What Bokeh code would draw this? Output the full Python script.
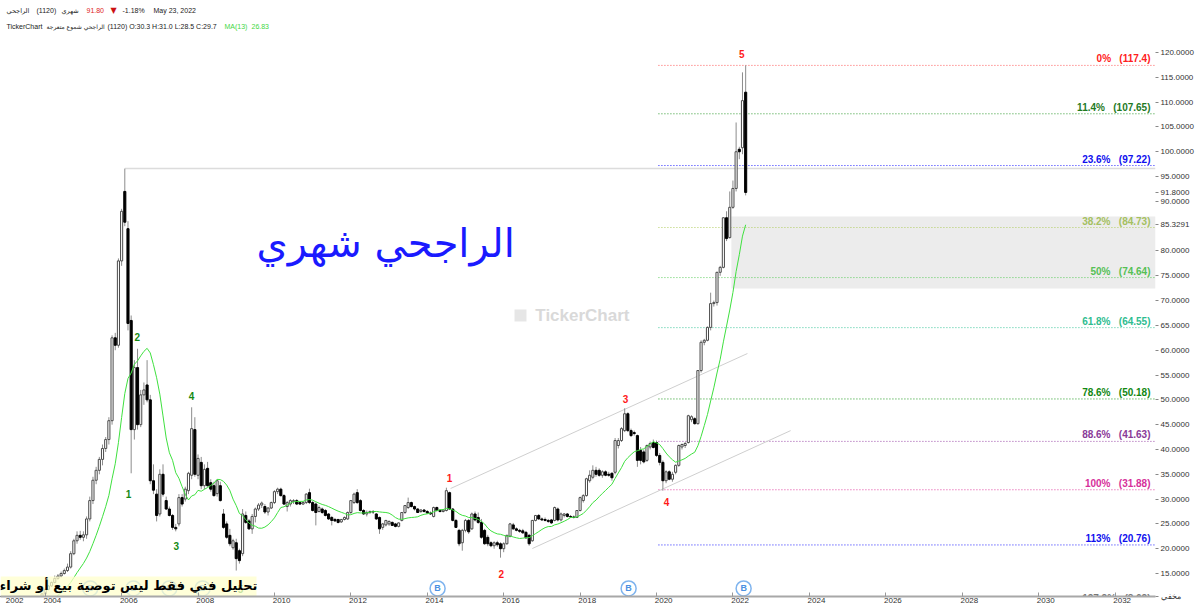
import pandas as pd
from bokeh.plotting import figure
from bokeh.models import (ColumnDataSource, Range1d, FixedTicker, CustomJSTickFormatter)
from bokeh.core.properties import value
from bokeh.embed import file_html
from bokeh.resources import INLINE

# ---------------- data (monthly candles, Al Rajhi 1120) ----------------
first_month = "2002-05-01"
opens = [
    5.4, 5.5, 5.6, 5.8, 5.9, 6.0, 6.2, 6.3,
    6.5, 6.6, 6.8, 7.0, 7.2, 7.4, 7.8, 8.2, 8.6, 9.0, 9.6, 10.2,
    10.9, 11.8, 12.5, 13.2, 14.0, 14.5, 15.0, 15.6, 16.3, 19.0, 21.6, 22.7,
    22.3, 22.8, 26.0, 29.7, 33.8, 35.8, 38.0, 40.2, 42.0, 45.8, 62.5, 61.0,
    78.0, 92.0, 84.5, 66.0, 44.0, 56.5, 45.0, 51.0, 53.0, 50.0, 33.7, 31.0,
    27.0, 35.0, 29.7, 28.0, 26.7, 24.3, 25.0, 30.3, 30.0, 31.7, 34.8, 44.0,
    34.8, 37.4, 32.7, 36.2, 33.3, 32.7, 31.1, 32.7, 27.0, 25.0, 22.7, 20.2,
    21.2, 19.6, 19.0, 26.7, 25.6, 24.0, 26.5, 28.0, 28.8, 28.5, 27.4, 28.2,
    29.3, 31.5, 32.0, 30.7, 28.5, 29.0, 29.5, 29.7, 29.3, 29.0, 29.3, 31.3,
    29.3, 29.0, 27.5, 28.0, 27.7, 27.0, 26.3, 25.9, 25.9, 25.4, 25.9, 26.0,
    27.3, 29.3, 31.3, 29.7, 27.7, 27.0, 27.3, 27.5, 27.0, 26.3, 24.3, 24.8,
    25.0, 25.3, 25.0, 24.5, 25.7, 27.3, 28.3, 29.3, 28.5, 28.0, 27.5, 27.8,
    27.5, 27.2, 26.5, 28.3, 27.7, 27.5, 27.7, 31.3, 28.0, 25.7, 23.7, 21.2,
    23.7, 25.7, 24.0, 27.0, 26.3, 25.3, 23.7, 22.3, 21.2, 20.6, 21.2, 21.0,
    20.0, 21.0, 22.5, 24.8, 24.0, 23.7, 23.6, 23.3, 22.7, 21.6, 25.7, 26.7,
    26.0, 25.9, 25.7, 25.8, 25.7, 28.0, 25.8, 26.7, 27.0, 26.5, 26.4, 26.3,
    27.7, 29.7, 30.7, 33.7, 34.4, 35.8, 35.8, 34.8, 35.5, 35.0, 35.2, 35.4,
    40.8, 41.8, 43.8, 47.2, 43.8, 43.4, 42.8, 39.8, 39.5, 37.8, 40.5, 41.4,
    41.4, 38.8, 37.4, 33.7, 35.5, 34.0, 35.4, 36.8, 40.5, 40.8, 41.4, 46.0,
    46.2, 45.2, 55.9, 61.6, 62.0, 64.6, 69.4, 69.6, 75.7, 76.7, 86.7, 82.7,
    88.8, 92.6, 100.5, 100.8, 112.0,
]
highs = [
    5.6, 5.7, 5.9, 6.0, 6.1, 6.3, 6.4, 6.6,
    6.7, 6.9, 7.1, 7.3, 7.5, 7.9, 8.3, 8.7, 9.1, 9.8, 10.4, 11.1,
    12.0, 12.7, 13.4, 14.6, 14.9, 15.4, 16.0, 17.0, 19.5, 22.0, 23.5, 23.6,
    23.5, 26.5, 30.5, 34.5, 36.5, 38.5, 41.0, 42.5, 46.5, 63.0, 63.5, 78.5,
    88.5, 96.6, 86.0, 67.0, 58.0, 60.3, 52.0, 53.5, 58.0, 51.0, 37.0, 32.0,
    36.0, 37.0, 30.5, 28.5, 27.0, 25.0, 31.0, 31.0, 32.5, 35.5, 48.5, 46.5,
    39.0, 38.5, 37.0, 37.5, 34.0, 33.5, 34.0, 33.5, 28.0, 25.5, 24.0, 22.0,
    22.0, 20.0, 28.0, 27.5, 26.0, 27.0, 28.3, 29.2, 29.5, 29.0, 28.4, 29.5,
    31.8, 32.3, 32.3, 31.0, 29.6, 30.0, 30.0, 30.0, 29.5, 29.6, 31.2, 32.1,
    29.6, 29.3, 28.7, 28.3, 28.0, 27.2, 26.6, 26.2, 26.0, 26.0, 26.5, 27.5,
    29.8, 31.3, 32.0, 30.0, 28.0, 27.7, 27.7, 27.8, 27.2, 26.5, 25.2, 25.8,
    25.7, 25.5, 25.2, 25.3, 27.3, 28.7, 30.3, 29.5, 28.7, 28.2, 28.0, 28.0,
    27.8, 27.5, 28.5, 28.5, 28.0, 28.0, 32.3, 31.5, 28.2, 26.0, 24.0, 24.0,
    26.0, 26.0, 27.3, 27.5, 27.3, 26.0, 24.0, 22.8, 21.5, 21.5, 21.6, 21.3,
    21.3, 22.8, 25.2, 25.2, 24.3, 24.0, 24.0, 23.6, 23.0, 25.8, 26.8, 27.0,
    26.3, 26.3, 26.0, 26.0, 28.5, 28.3, 27.3, 27.2, 27.2, 26.8, 26.7, 27.8,
    30.5, 31.0, 34.3, 35.8, 36.8, 36.5, 36.2, 35.8, 35.8, 35.5, 35.4, 42.3,
    42.3, 44.5, 48.3, 47.5, 44.2, 43.8, 43.0, 40.5, 40.0, 41.0, 41.6, 42.0,
    41.8, 39.3, 37.8, 35.8, 35.8, 35.5, 37.0, 41.0, 41.2, 41.5, 47.0, 46.9,
    46.5, 56.0, 62.0, 62.3, 64.8, 71.6, 70.0, 75.8, 77.0, 86.8, 88.0, 92.0,
    94.2, 105.9, 101.0, 116.0, 117.4,
]
lows = [
    5.3, 5.4, 5.5, 5.7, 5.8, 5.9, 6.1, 6.2,
    6.4, 6.5, 6.6, 6.9, 7.1, 7.3, 7.7, 8.1, 8.5, 8.9, 9.5, 10.0,
    10.8, 11.6, 12.3, 13.0, 13.7, 14.2, 14.8, 15.3, 16.0, 18.7, 21.0, 21.8,
    21.5, 22.0, 25.5, 29.0, 33.0, 35.0, 36.8, 39.5, 41.0, 45.0, 60.0, 60.5,
    77.0, 85.0, 64.0, 35.2, 42.0, 44.0, 44.5, 49.0, 49.5, 33.0, 31.0, 25.5,
    26.5, 30.5, 27.8, 26.5, 23.8, 23.5, 24.5, 28.5, 29.5, 31.0, 34.0, 34.5,
    34.0, 32.0, 32.0, 32.5, 31.5, 30.5, 30.5, 29.5, 24.0, 22.0, 20.5, 19.8,
    15.6, 17.0, 18.5, 25.0, 23.8, 23.0, 25.3, 27.6, 28.2, 27.0, 26.7, 28.0,
    29.0, 31.0, 30.5, 28.8, 27.5, 28.5, 29.0, 28.8, 28.8, 28.8, 29.0, 29.0,
    27.5, 24.7, 27.3, 27.0, 26.5, 25.8, 24.7, 25.4, 25.1, 25.2, 25.7, 25.8,
    27.0, 29.0, 29.0, 27.5, 26.8, 26.5, 27.0, 27.0, 25.8, 23.0, 23.8, 24.5,
    24.6, 24.6, 24.3, 24.3, 25.5, 27.0, 28.0, 28.3, 27.7, 27.2, 27.2, 27.3,
    27.0, 26.8, 26.3, 27.5, 27.3, 27.3, 27.5, 27.8, 25.5, 24.2, 20.5, 19.6,
    23.3, 23.0, 23.8, 25.5, 25.0, 22.0, 20.8, 20.5, 20.3, 20.0, 20.4, 18.2,
    19.3, 20.8, 22.3, 23.8, 23.5, 23.2, 23.0, 22.0, 20.6, 21.4, 25.5, 25.8,
    25.6, 25.5, 25.2, 25.0, 25.5, 25.5, 25.5, 26.3, 26.3, 26.2, 26.1, 26.2,
    27.5, 29.3, 30.5, 33.3, 34.0, 34.5, 34.5, 34.3, 34.6, 34.5, 33.7, 35.0,
    40.2, 41.5, 43.5, 43.5, 42.5, 42.8, 36.5, 37.0, 37.2, 37.5, 40.0, 40.2,
    38.5, 36.8, 31.7, 33.2, 33.8, 33.5, 35.0, 36.5, 40.0, 40.3, 41.2, 45.5,
    45.0, 45.0, 55.5, 61.0, 61.8, 64.0, 68.8, 69.0, 75.0, 76.5, 82.0, 82.5,
    88.5, 92.0, 98.5, 99.5, 91.2,
]
closes = [
    5.5, 5.6, 5.8, 5.9, 6.0, 6.2, 6.3, 6.5,
    6.6, 6.8, 7.0, 7.2, 7.4, 7.8, 8.2, 8.6, 9.0, 9.6, 10.2, 10.9,
    11.8, 12.5, 13.2, 14.0, 14.5, 15.0, 15.6, 16.3, 19.0, 21.6, 22.7, 22.3,
    22.8, 26.0, 29.7, 33.8, 35.8, 38.0, 40.2, 42.0, 45.8, 62.5, 61.0, 78.0,
    88.0, 85.8, 65.4, 44.0, 56.5, 45.0, 51.0, 52.0, 50.0, 33.7, 31.8, 26.7,
    35.0, 31.0, 28.0, 26.7, 24.3, 24.0, 30.3, 29.0, 32.0, 35.2, 44.2, 35.0,
    38.2, 32.7, 36.0, 32.7, 32.0, 30.7, 33.7, 29.7, 24.3, 22.3, 21.0, 21.6,
    18.0, 17.6, 27.0, 25.3, 24.0, 26.5, 28.0, 28.8, 29.2, 27.4, 28.2, 29.3,
    31.5, 32.0, 30.7, 29.0, 29.3, 29.7, 29.7, 29.0, 29.0, 29.3, 31.0, 29.3,
    27.7, 27.3, 28.3, 27.3, 26.7, 26.0, 25.7, 25.6, 25.3, 25.9, 26.3, 27.3,
    29.7, 31.0, 29.3, 27.7, 27.0, 27.3, 27.5, 27.4, 26.0, 24.0, 25.0, 25.7,
    25.5, 24.7, 24.5, 25.2, 27.3, 28.7, 29.3, 28.5, 28.0, 27.3, 27.8, 27.5,
    27.2, 27.0, 28.3, 27.7, 27.5, 27.8, 31.7, 28.0, 25.7, 24.3, 21.0, 23.7,
    25.7, 23.4, 27.0, 25.8, 25.3, 22.3, 21.0, 21.0, 20.6, 21.2, 20.8, 20.0,
    21.0, 22.7, 25.0, 24.0, 23.7, 23.5, 23.2, 22.2, 21.0, 25.7, 26.7, 26.0,
    25.8, 25.7, 25.5, 25.2, 28.3, 25.8, 27.0, 27.0, 26.5, 26.4, 26.3, 27.7,
    30.3, 30.7, 34.1, 34.8, 35.8, 35.0, 34.8, 35.5, 34.8, 34.8, 34.3, 41.8,
    41.8, 44.2, 47.2, 43.8, 42.8, 43.2, 37.8, 37.8, 37.5, 40.8, 41.2, 40.4,
    38.8, 37.4, 33.7, 35.5, 34.0, 35.0, 36.8, 40.8, 41.0, 41.2, 46.8, 46.6,
    45.2, 55.9, 61.6, 62.0, 64.6, 69.4, 69.6, 75.7, 76.7, 86.7, 82.5, 88.8,
    92.6, 100.0, 100.0, 110.3, 91.8,
]

# Fibonacci levels
fib_pcts = ["0%", "11.4%", "23.6%", "38.2%", "50%", "61.8%", "78.6%", "88.6%", "100%", "113%", "127.2%"]
fib_vals = [117.4, 107.65, 97.22, 84.73, 74.64, 64.55, 50.18, 41.63, 31.88, 20.76, 8.62]
fib_line_colors = ["#ff5a5a", "#2e9a2e", "#2020ff", "#b0cc60", "#5ccc5c", "#3cc49a",
                   "#1f9a1f", "#9a4aa8", "#e040a0", "#2020ff", "#777777"]
fib_text_colors = ["#ff2020", "#1f7a1f", "#1010ee", "#a4c060", "#55c055", "#2ebd90",
                   "#118811", "#8a3a98", "#d6309a", "#1010ee", "#777777"]
fib_start = 2020.05

# gray zone
zone_left, zone_bottom, zone_top = 2021.96, 72.44, 86.95

# channel lines (date, price)
chan_upper = [(2014.61, 32.13), (2022.38, 59.34)]
chan_lower = [(2016.75, 20.04), (2023.51, 43.80)]

# wave labels
green_waves = ["1", "2", "3", "4", "5"]
green_t = [2006.18, 2006.41, 2007.43, 2007.83, 2009.11]
green_p = [31.1, 62.6, 20.6, 50.7, 11.9]
red_waves = ["1", "2", "3", "4", "5"]
red_t = [2014.58, 2015.94, 2019.19, 2020.26, 2022.23]
red_p = [34.35, 15.0, 50.27, 29.5, 119.6]

# "B" markers
b_t = [2005.18, 2006.31, 2007.25, 2008.12, 2014.27, 2019.27, 2022.28]
b_price = 12.0

# right-axis price tags
last_close_tag = 91.8
ma_tag = 85.3291
price_ticks = [15, 20, 25, 30, 35, 40, 45, 50, 55, 60, 65, 70, 75, 80,
               ma_tag, 90, last_close_tag, 95, 100, 105, 110, 115, 120]
year_labels = list(range(2004, 2033, 2))

# disclaimer box extent (years / price)
disc_right, disc_top, disc_text_y = 2009.53, 14.4, 12.6

# ---------------- frame ----------------
X0, X1 = 2002.83, 2033.06
Y0, Y1 = 10.37, 130.48

months = pd.date_range(first_month, periods=len(closes), freq="MS")
t = months.year + (months.month - 1) / 12.0
df = pd.DataFrame({"t": t, "o": opens, "h": highs, "l": lows, "c": closes})
df["ma"] = df["c"].rolling(13).mean()
up = df[df.c >= df.o]
dn = df[df.c < df.o]

p = figure(width=1200, height=609, x_range=Range1d(X0, X1), y_range=Range1d(Y0, Y1),
           output_backend="svg", toolbar_location=None, y_axis_location="right",
           min_border_left=0, min_border_right=45, min_border_top=0, min_border_bottom=13,
           background_fill_color="white", border_fill_color="white", outline_line_color=None)
p.grid.visible = False

xa = p.xaxis[0]
xa.ticker = FixedTicker(ticks=[2003.2] + [y + 0.1875 for y in year_labels], minor_ticks=year_labels)
xa.formatter = CustomJSTickFormatter(code="return tick < 2004 ? '2002' : String(Math.floor(tick));")
xa.major_tick_line_color = None
xa.major_tick_out = 0
xa.major_tick_in = 0
xa.minor_tick_in = 4
xa.minor_tick_out = 0
xa.minor_tick_line_color = "#999999"
xa.axis_line_color = "#a8a8a8"
xa.axis_line_width = 2
xa.major_label_text_font_size = "8px"
xa.major_label_text_color = "#333333"
xa.major_label_text_font = "Liberation Sans"
xa.major_label_standoff = 1

ya = p.yaxis[0]
ya.ticker = FixedTicker(ticks=[Y0] + price_ticks)
ya.formatter = CustomJSTickFormatter(code="return tick < 12 ? 'مخفي' : tick.toFixed(4);")
ya.axis_line_color = None
ya.major_tick_out = 3
ya.major_tick_in = 0
ya.major_tick_line_color = "#888888"
ya.minor_tick_line_color = None
ya.major_label_text_font_size = "8px"
ya.major_label_text_color = "#333333"
ya.major_label_text_font = "Liberation Sans"
ya.major_label_standoff = 2

# gray zone
p.quad(left=zone_left, right=X1, bottom=zone_bottom, top=zone_top,
       fill_color="#ececec", line_color=None)

# horizontal line from the 2006 peak
peak_i = int(df["h"].iloc[:60].idxmax())
p.segment(x0=df["t"].iloc[peak_i], y0=df["h"].iloc[peak_i], x1=X1, y1=df["h"].iloc[peak_i],
          line_color="#dcdcdc", line_width=1.5)

# fib lines + labels
nb = "\u00a0\u00a0\u00a0"
fsrc = ColumnDataSource(dict(v=fib_vals, lc=fib_line_colors, tc=fib_text_colors,
                             txt=[f"{a}{nb}({b})" for a, b in zip(fib_pcts, fib_vals)]))
p.segment(x0=fib_start, y0="v", x1=X1, y1="v", line_color="lc", line_dash="1 2",
          line_width=1, source=fsrc)
p.text(x=X1, y="v", text="txt", text_color="tc", text_align="right", text_baseline="bottom",
       x_offset=-5, y_offset=-1, text_font=value("Liberation Sans"), text_font_style="bold",
       text_font_size="10px", source=fsrc)

# channel lines
p.segment(x0=[chan_upper[0][0], chan_lower[0][0]], y0=[chan_upper[0][1], chan_lower[0][1]],
          x1=[chan_upper[1][0], chan_lower[1][0]], y1=[chan_upper[1][1], chan_lower[1][1]],
          line_color="#cfcfcf", line_width=1)

# watermark
p.scatter(x=[2016.44], y=[67.0], marker="square", size=12, fill_color="#e6e6e6", line_color=None)
p.text(x=[2018.06], y=[67.0], text=["TickerChart"], text_color="#d9d9d9", text_align="center",
       text_baseline="middle", text_font=value("Liberation Sans"), text_font_style="bold",
       text_font_size="17px")

# title
p.text(x=[2012.91], y=[81.7], text=["الراجحي شهري"], text_color="#1a1aff", text_align="center",
       text_baseline="middle", text_font=value("DejaVu Sans"), text_font_size="40px")

# candles
src = ColumnDataSource(df)
p.segment(x0="t", y0="h", x1="t", y1="l", source=src, line_color="#8c8c8c", line_width=1)
p.vbar(x="t", width=0.055, top="c", bottom="o", source=ColumnDataSource(up),
       fill_color="white", line_color="#4a4a4a", line_width=1)
p.vbar(x="t", width=0.055, top="o", bottom="c", source=ColumnDataSource(dn),
       fill_color="black", line_color="black", line_width=1)
p.line(x="t", y="ma", source=src, line_color="#3fe03f", line_width=1)

# wave labels
p.text(x=green_t, y=green_p, text=green_waves, text_color="#148a14", text_align="center",
       text_baseline="middle", text_font=value("Liberation Sans"), text_font_style="bold",
       text_font_size="10px")
p.text(x=red_t, y=red_p, text=red_waves, text_color="#ff1a1a", text_align="center",
       text_baseline="middle", text_font=value("Liberation Sans"), text_font_style="bold",
       text_font_size="10px")

# B markers
b_y = [b_price] * len(b_t)
p.scatter(x=b_t, y=b_y, marker="circle", size=15, fill_color="white",
          line_color="#7fb4ee", line_width=1.5)
p.text(x=b_t, y=b_y, text=["B"] * len(b_t), text_color="#4a90e2", text_align="center",
       text_baseline="middle", text_font=value("Liberation Sans"), text_font_style="bold",
       text_font_size="9px")

# disclaimer box (bottom-left)
p.quad(left=X0, right=disc_right, bottom=Y0, top=disc_top,
       fill_color="#ffffcc", fill_alpha=0.75, line_color=None)
p.text(x=[(X0 + disc_right) / 2], y=[disc_text_y], text=["تحليل فني فقط ليس توصية بيع أو شراء"],
       text_color="black", text_align="center", text_baseline="middle",
       text_font=value("DejaVu Sans"), text_font_style="bold", text_font_size="13px")

# header
h_lat = [("(1120)", 36, 10, "#222222"), ("91.80", 86, 10, "#e02424"), ("-1.18%", 122, 10, "#222222"),
         ("May 23, 2022", 153, 10, "#222222"),
         ("TickerChart", 6, 26, "#222222"),
         ("(1120) O:30.3 H:31.0 L:28.5 C:29.7", 107, 26, "#222222"),
         ("MA(13)", 224, 26, "#3fd83f"), ("26.83", 251, 26, "#3fd83f")]
h_ar = [("الراجحي", 6, 10, "#222222", "6.5px"), ("شهري", 61, 10, "#222222", "6.5px"),
        ("▼", 110, 10, "#cc1111", "8px"),
        ("الراجحي شموع متعرجة", 46, 26, "#222222", "6px")]
hs = ColumnDataSource(dict(txt=[a[0] for a in h_lat], xo=[a[1] for a in h_lat],
                           yo=[a[2] for a in h_lat], col=[a[3] for a in h_lat]))
p.text(x=X0, y=Y1, text="txt", x_offset="xo", y_offset="yo", text_color="col",
       text_align="left", text_baseline="middle", text_font=value("Liberation Sans"),
       text_font_size="7px", source=hs)
ha = ColumnDataSource(dict(txt=[a[0] for a in h_ar], xo=[a[1] for a in h_ar],
                           yo=[a[2] for a in h_ar], col=[a[3] for a in h_ar],
                           fs=[a[4] for a in h_ar]))
p.text(x=X0, y=Y1, text="txt", x_offset="xo", y_offset="yo", text_color="col",
       text_align="left", text_baseline="middle", text_font=value("DejaVu Sans"),
       text_font_size="fs", source=ha)

open("out.html", "w").write(file_html(p, INLINE))
